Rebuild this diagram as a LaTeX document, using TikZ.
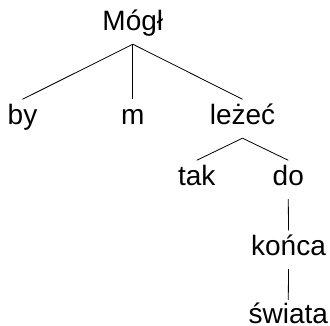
\documentclass[tikz,border=0pt]{standalone}
\usepackage{fontspec}
\setmainfont{Liberation Sans}
\begin{document}
\begin{tikzpicture}[x=1pt,y=1pt,
  word/.style={inner sep=0pt, anchor=base, text height=25.5pt, text depth=13pt, font=\fontsize{28}{34}\selectfont},
  edge/.style={draw=black, line width=0.8pt}]
\useasboundingbox (0,0) rectangle (330,-326);
\node[word] (mogl) at (132.8,-31) {Mógł};
\node[word] (by) at (22.5,-125) {by};
\node[word] (m) at (132.8,-125) {m};
\node[word] (lezec) at (242.5,-125) {leżeć};
\node[word] (tak) at (196.7,-186) {tak};
\node[word] (do) at (288.3,-186) {do};
\node[word] (konca) at (288.5,-256) {końca};
\node[word, text height=23.3pt, text depth=1pt] (swiata) at (288.3,-323.3) {świata};
\draw[edge] (mogl.south) -- (by.north);
\draw[edge] (mogl.south) -- (m.north);
\draw[edge] (mogl.south) -- (lezec.north);
\draw[edge] (lezec.south) -- (tak.north);
\draw[edge] (lezec.south) -- (do.north);
\draw[edge] (do.south) -- (konca.north);
\draw[edge] (konca.south) -- (swiata.north);
\end{tikzpicture}
\end{document}
